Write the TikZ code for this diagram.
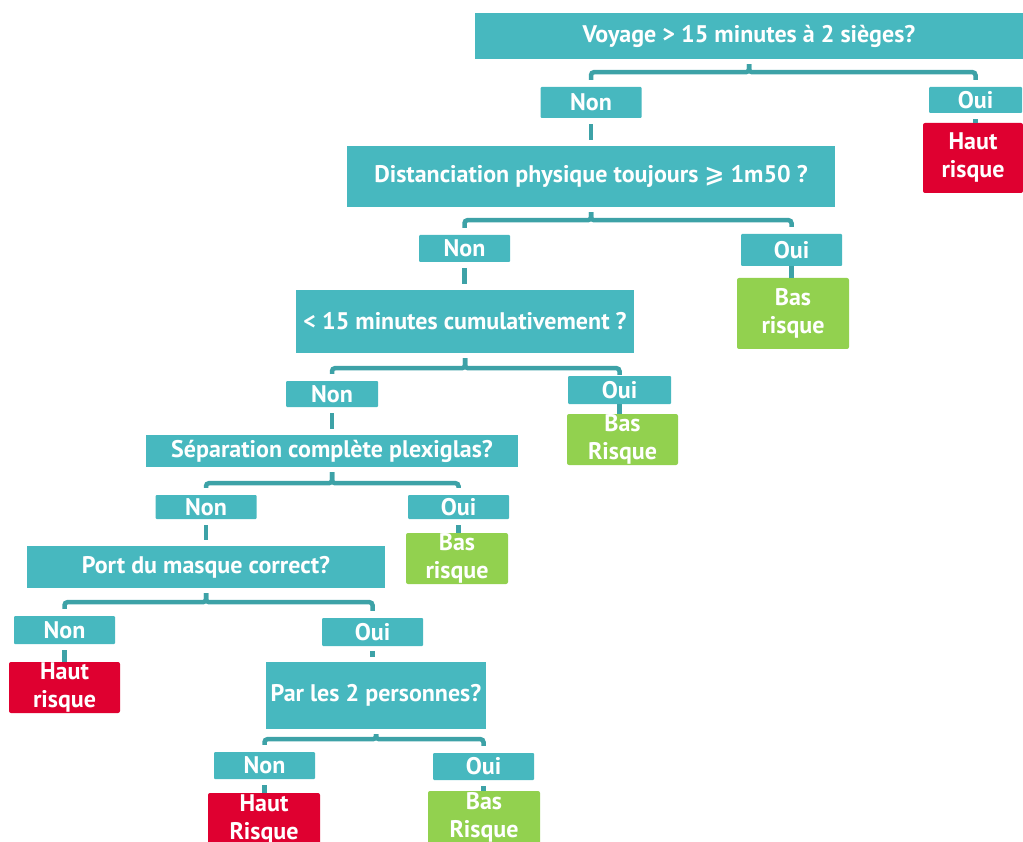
\documentclass[tikz,border=0pt]{standalone}
\usepackage{fontspec}
\setmainfont{PT Sans}
\newfontfamily\symfont{DejaVu Sans}
\definecolor{boxteal}{HTML}{47B8BF}
\definecolor{linkteal}{HTML}{3DA2A7}
\definecolor{highred}{HTML}{DF0030}
\definecolor{lowgreen}{HTML}{92D14F}
\begin{document}
\begin{tikzpicture}[x=1pt,y=-1pt,
  every node/.style={text=white,font=\bfseries\fontsize{24}{28}\selectfont,inner sep=0pt,align=center},
  qbox/.style={fill=boxteal},
  ansbox/.style={fill=boxteal,rounded corners=1pt,minimum width=101pt},
  highbox/.style={fill=highred,rounded corners=2pt},
  lowbox/.style={fill=lowgreen,rounded corners=2pt},
  link/.style={draw=linkteal,line width=4.5pt,rounded corners=3pt,shorten <=5pt,shorten >=7pt}]
  \useasboundingbox (0,0) rectangle (1023,842);
  \node [qbox,minimum width=548pt,minimum height=46pt] (q1) at (749,36) {Voyage > 15 minutes à 2 sièges?};
  \node [ansbox,minimum height=31pt] (non1) at (591,102.5) {Non};
  \node [ansbox,minimum width=93pt,minimum height=26pt] (oui1) at (975.5,100) {Oui};
  \node [highbox,minimum width=100pt,minimum height=70pt] (haut1) at (973,158) {Haut\\risque};
  \node [qbox,minimum width=488pt,minimum height=61pt] (q2) at (591,176.5) {Distanciation physique toujours {\symfont\bfseries ⩾} 1m50 ?};
  \node [ansbox,minimum width=91pt,minimum height=27pt] (non2) at (464.5,248.5) {Non};
  \node [ansbox,minimum height=32pt] (oui2) at (791.5,250) {Oui};
  \node [lowbox,minimum width=112pt,minimum height=71pt] (bas2) at (793,313.5) {Bas\\risque};
  \node [qbox,minimum width=338pt,minimum height=63pt] (q3) at (465,321.5) {< 15 minutes cumulativement ?};
  \node [ansbox,minimum width=92pt,minimum height=26pt] (non3) at (332,394) {Non};
  \node [ansbox,minimum width=103pt,minimum height=28pt] (oui3) at (619.5,390) {Oui};
  \node [lowbox,minimum width=111pt,minimum height=51pt] (bas3) at (622.5,439.5) {Bas\\Risque};
  \node [qbox,minimum width=372pt,minimum height=32pt] (q4) at (332,451) {Séparation complète plexiglas?};
  \node [ansbox,minimum height=24pt] (non4) at (206,507) {Non};
  \node [ansbox,minimum height=24pt] (oui4) at (458.5,507) {Oui};
  \node [lowbox,minimum width=102pt,minimum height=51pt] (bas4) at (457,558.5) {Bas\\risque};
  \node [qbox,minimum width=358pt,minimum height=42pt] (q5) at (206,567) {Port du masque correct?};
  \node [ansbox,minimum height=28pt] (non5) at (64.5,630) {Non};
  \node [ansbox,minimum height=28pt] (oui5) at (372.5,632) {Oui};
  \node [highbox,minimum width=111pt,minimum height=51pt] (haut5) at (64.5,687.5) {Haut\\risque};
  \node [qbox,minimum width=220pt,minimum height=67pt] (q6) at (376,695.5) {Par les 2 personnes?};
  \node [ansbox,minimum height=27pt] (non6) at (264.5,765.5) {Non};
  \node [ansbox,minimum height=27pt] (oui6) at (483.5,766.5) {Oui};
  \node [highbox,minimum width=112pt,minimum height=53pt] (haut6) at (264,819.5) {Haut\\Risque};
  \node [lowbox,minimum width=112pt,minimum height=53pt] (bas6) at (484,817.5) {Bas\\Risque};
  \draw [link] (q1.south) -- ++(0,13) -| (non1.north);
  \draw [link] (q1.south) -- ++(0,13) -| (oui1.north);
  \draw [link] (q2.south) -- ++(0,13) -| (non2.north);
  \draw [link] (q2.south) -- ++(0,13) -| (oui2.north);
  \draw [link] (q3.south) -- ++(0,15) -| (non3.north);
  \draw [link,shorten >=1pt] (q3.south) -- ++(0,15) -| (oui3.north);
  \draw [link] (q4.south) -- ++(0,16) -| (non4.north);
  \draw [link] (q4.south) -- ++(0,16) -| (oui4.north);
  \draw [link] (q5.south) -- ++(0,14) -| (non5.north);
  \draw [link] (q5.south) -- ++(0,14) -| (oui5.north);
  \draw [link] (q6.south) -- ++(0,10) -| (non6.north);
  \draw [link] (q6.south) -- ++(0,10) -| (oui6.north);
  \draw [link,shorten <=6pt,shorten >=6pt] (non1.south) -- (non1.south |- q2.north);
  \draw [link,shorten <=6pt,shorten >=6pt] (non2.south) -- (non2.south |- q3.north);
  \draw [link,shorten <=6pt,shorten >=6pt] (non3.south) -- (non3.south |- q4.north);
  \draw [link,shorten <=6pt,shorten >=6pt] (non4.south) -- (non4.south |- q5.north);
  \draw [link,shorten <=5pt,shorten >=5pt] (oui5.south) -- (oui5.south |- q6.north);
  \draw [link,shorten <=6pt,shorten >=0pt] (oui1.south) -- (oui1.south |- haut1.north);
  \draw [link,shorten <=0pt,shorten >=0pt] (oui2.south) -- (oui2.south |- bas2.north);
  \draw [link,shorten <=0pt,shorten >=0pt] (oui3.south) -- (oui3.south |- bas3.north);
  \draw [link,shorten <=6pt,shorten >=0pt] (oui4.south) -- (oui4.south |- bas4.north);
  \draw [link,shorten <=6pt,shorten >=0pt] (non5.south) -- (non5.south |- haut5.north);
  \draw [link,shorten <=6pt,shorten >=0pt] (non6.south) -- (non6.south |- haut6.north);
  \draw [link,shorten <=6pt,shorten >=0pt] (oui6.south) -- (oui6.south |- bas6.north);
\end{tikzpicture}
\end{document}
